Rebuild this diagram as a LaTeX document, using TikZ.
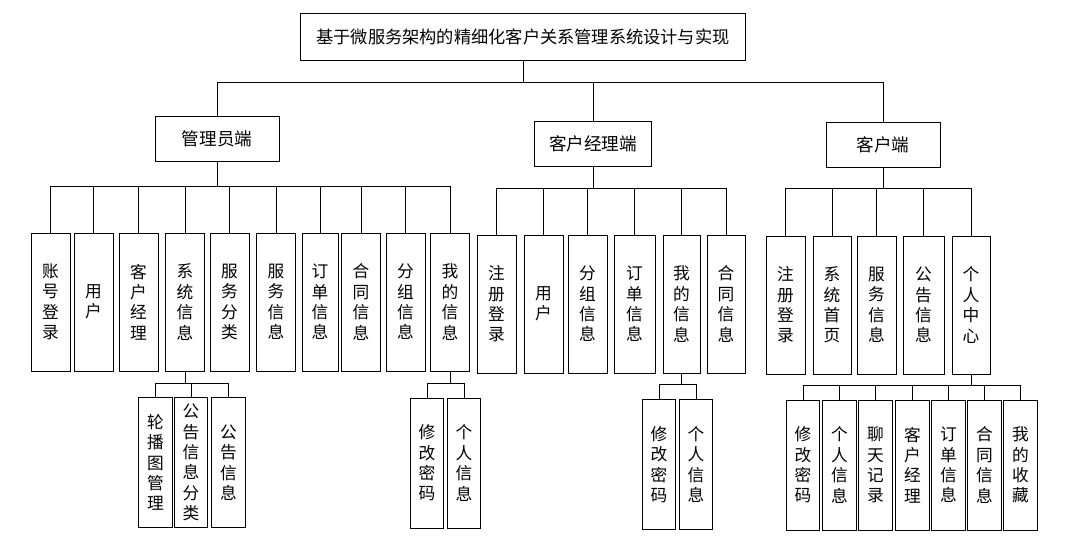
\documentclass[tikz,border=0pt]{standalone}
\usepackage{fontspec}
\newfontfamily\cjk{Noto Sans CJK SC}
\usetikzlibrary{positioning}

\begin{document}
\begin{tikzpicture}[x=0.02cm, y=-0.02cm, every node/.style={draw, font=\cjk\fontsize{9.5}{11.6}\selectfont, inner sep=1pt}]
  \tikzset{
    top/.style={minimum width=8.9cm, minimum height=0.94cm, font=\cjk\fontsize{9.8}{12}\selectfont},
    side/.style={minimum width=2.4cm, minimum height=0.9cm, font=\cjk\fontsize{10}{12}\selectfont},
    leaf/.style={minimum width=0.78cm, minimum height=2.76cm, align=center},
    small/.style={minimum width=0.67cm, minimum height=2.6cm, align=center}
  }
  \useasboundingbox (0,0) rectangle (1077,537);

  \node[top] (sys) at (523,37) {基于微服务架构的精细化客户关系管理系统设计与实现};

  \node[side, minimum width=2.48cm] (admin) at (217,139) {管理员端};
  \node[side, minimum width=2.34cm] (mgr) at (593,144) {客户经理端};
  \node[side, minimum width=2.28cm] (cust) at (883,145) {客户端};

  % admin side
  \node[leaf] (a1) at (50.5,302) {账\\号\\登\\录};
  \node[leaf] (a2) at (93.5,302) {用\\户};
  \node[leaf] (a3) at (138.5,302) {客\\户\\经\\理};
  \node[leaf] (a4) at (185,302) {系\\统\\信\\息};
  \node[leaf] (a5) at (229.5,302) {服\\务\\分\\类};
  \node[leaf] (a6) at (276,302) {服\\务\\信\\息};
  \node[leaf, minimum width=0.72cm] (a7) at (320,302) {订\\单\\信\\息};
  \node[leaf] (a8) at (361,302) {合\\同\\信\\息};
  \node[leaf] (a9) at (405.5,302) {分\\组\\信\\息};
  \node[leaf] (a10) at (450,302) {我\\的\\信\\息};

  \node[small] (a41) at (155.5,462.5) {轮\\播\\图\\管\\理};
  \node[small] (a42) at (191,462.5) {公\\告\\信\\息\\分\\类};
  \node[small] (a43) at (228.5,462.5) {公\\告\\信\\息};
  \node[small] (a101) at (427,463) {修\\改\\密\\码};
  \node[small] (a102) at (464,463) {个\\人\\信\\息};

  % manager side
  \node[leaf] (m1) at (496.5,304) {注\\册\\登\\录};
  \node[leaf] (m2) at (543.5,304) {用\\户};
  \node[leaf] (m3) at (587.5,304) {分\\组\\信\\息};
  \node[leaf, minimum width=0.82cm] (m4) at (634.5,304) {订\\单\\信\\息};
  \node[leaf, minimum width=0.74cm] (m5) at (681.5,304) {我\\的\\信\\息};
  \node[leaf, minimum width=0.76cm] (m6) at (726,304) {合\\同\\信\\息};

  \node[small] (m51) at (659,464.5) {修\\改\\密\\码};
  \node[small] (m52) at (696,464.5) {个\\人\\信\\息};

  % customer side
  \node[leaf] (c1) at (785.5,305) {注\\册\\登\\录};
  \node[leaf, minimum width=0.76cm] (c2) at (832,305) {系\\统\\首\\页};
  \node[leaf] (c3) at (876.5,305) {服\\务\\信\\息};
  \node[leaf, minimum width=0.82cm] (c4) at (923.5,305) {公\\告\\信\\息};
  \node[leaf, minimum width=0.76cm] (c5) at (971,305) {个\\人\\中\\心};

  \node[small] (c51) at (803,465) {修\\改\\密\\码};
  \node[small] (c52) at (839.5,465) {个\\人\\信\\息};
  \node[small] (c53) at (875.5,465) {聊\\天\\记\\录};
  \node[small] (c54) at (912.5,465) {客\\户\\经\\理};
  \node[small] (c55) at (948.5,465) {订\\单\\信\\息};
  \node[small] (c56) at (984.5,465) {合\\同\\信\\息};
  \node[small] (c57) at (1020.5,465) {我\\的\\收\\藏};

  \foreach \k in {admin,mgr,cust}
    \draw (sys.south) -- ++(0,22) -| (\k.north);
  \foreach \k in {a1,a2,a3,a4,a5,a6,a7,a8,a9,a10}
    \draw (admin.south) -- ++(0,25) -| (\k.north);
  \foreach \k in {m1,m2,m3,m4,m5,m6}
    \draw (mgr.south) -- ++(0,22) -| (\k.north);
  \foreach \k in {c1,c2,c3,c4,c5}
    \draw (cust.south) -- ++(0,21) -| (\k.north);
  \foreach \k in {a41,a42,a43}
    \draw (a4.south) -- ++(0,12) -| (\k.north);
  \foreach \k in {a101,a102}
    \draw (a10.south) -- ++(0,12) -| (\k.north);
  \foreach \k in {m51,m52}
    \draw (m5.south) -- ++(0,11) -| (\k.north);
  \foreach \k in {c51,c52,c53,c54,c55,c56,c57}
    \draw (c5.south) -- ++(0,11) -| (\k.north);
\end{tikzpicture}
\end{document}
